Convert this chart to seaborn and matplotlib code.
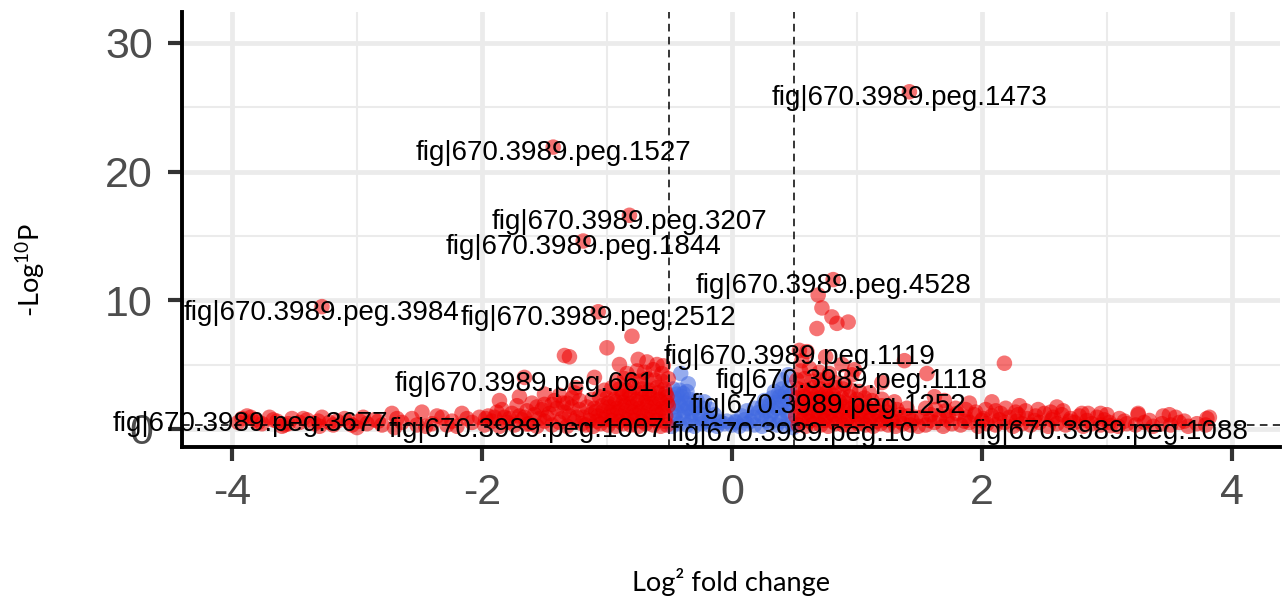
import numpy as np
import pandas as pd
import matplotlib
matplotlib.use("Agg")
import matplotlib.pyplot as plt
import seaborn as sns

# ---------------- data ----------------
# far left red band
fc_far_left = [-3.95, -3.88, -3.82, -3.76, -3.70, -3.64, -3.58, -3.52, -3.46, -3.40,
               -3.34, -3.28, -3.22, -3.16, -3.10, -3.04, -2.98, -2.92, -2.86, -2.80,
               -2.72, -2.64, -2.56, -2.48, -2.40, -2.32, -2.24, -2.16, -2.08, -2.02,
               -3.60, -3.30, -3.00, -2.70, -2.45, -2.20,
               -3.92, -3.79, -3.67, -3.55, -3.43, -3.31, -3.19, -3.07, -2.95, -2.83,
               -2.68, -2.52, -2.36, -2.28, -2.12]
p_far_left = [0.5, 1.0, 0.7, 0.4, 0.9, 0.6, 0.3, 0.8, 0.5, 0.7,
              0.4, 0.9, 0.5, 0.6, 0.8, 0.3, 0.6, 0.4, 0.7, 0.3,
              1.2, 0.5, 0.8, 1.3, 0.4, 0.9, 0.6, 1.2, 0.5, 0.9,
              0.2, 0.2, 0.1, 0.1, 0.2, 0.2,
              0.8, 0.5, 0.7, 0.4, 0.8, 0.6, 0.3, 0.6, 0.9, 0.6,
              0.8, 0.3, 1.0, 0.3, 0.8]

# -2 .. -1.2
fc_mid_left = [-1.98, -1.92, -1.86, -1.80, -1.74, -1.68, -1.62, -1.56, -1.50, -1.44, -1.38, -1.32, -1.26, -1.20,
               -1.95, -1.88, -1.82, -1.76, -1.70, -1.64, -1.58, -1.52, -1.46, -1.40, -1.34, -1.28, -1.22,
               -1.86, -1.72, -1.60, -1.50, -1.42, -1.35, -1.28, -1.22,
               -1.70, -1.50, -1.38, -1.25,
               -1.97, -1.90, -1.84, -1.78, -1.66, -1.54, -1.48, -1.36, -1.30, -1.24,
               -1.56, -1.44, -1.32, -1.26]
p_mid_left = [0.3, 0.6, 0.2, 0.5, 0.3, 0.7, 0.4, 0.2, 0.6, 0.3, 0.5, 0.2, 0.6, 0.4,
              1.0, 1.3, 0.9, 1.2, 1.0, 1.4, 1.1, 1.5, 1.2, 1.6, 1.3, 1.7, 1.5,
              2.2, 1.8, 2.0, 1.9, 2.2, 2.0, 2.4, 2.2,
              2.5, 2.7, 2.6, 3.2,
              0.8, 0.9, 1.5, 0.8, 0.9, 0.8, 0.9, 0.8, 1.0, 0.9,
              1.7, 1.9, 2.0, 2.8]

# -1.2 .. -0.5 (dense)
fc_near_left = [-1.17, -1.11, -1.05, -0.99, -0.93, -0.87, -0.81, -0.75, -0.69, -0.63, -0.57, -0.52,
                -1.19, -1.13, -1.07, -1.01, -0.95, -0.89, -0.83, -0.77, -0.71, -0.65, -0.59, -0.53,
                -1.16, -1.10, -1.04, -0.98, -0.92, -0.86, -0.80, -0.74, -0.68, -0.62, -0.56, -0.51,
                -1.12, -1.06, -1.00, -0.94, -0.88, -0.82, -0.76, -0.70, -0.64, -0.58, -0.52,
                -1.02, -0.96, -0.90, -0.84, -0.78, -0.72, -0.66, -0.60, -0.54,
                -0.92, -0.86, -0.80, -0.74, -0.68, -0.62, -0.56, -0.51,
                -0.84, -0.76, -0.70, -0.63, -0.56,
                -1.14, -1.08, -1.02, -0.96, -0.90, -0.84, -0.78, -0.72, -0.66, -0.60, -0.54,
                -1.09, -1.03, -0.97, -0.91, -0.85, -0.79, -0.73, -0.67, -0.61, -0.55,
                -0.99, -0.93, -0.87, -0.81, -0.75, -0.69, -0.63, -0.57, -0.52,
                -0.88, -0.82, -0.72, -0.66, -0.59, -0.53,
                -0.80, -1.00, -1.30, -1.34, -0.68, -0.60, -0.90, -1.10, -0.75, -0.55]
p_near_left = [0.3, 0.2, 0.4, 0.3, 0.2, 0.4, 0.3, 0.2, 0.4, 0.3, 0.2, 0.3,
               0.9, 1.1, 1.0, 0.9, 1.1, 1.0, 0.9, 1.1, 1.0, 0.9, 1.1, 1.0,
               1.7, 1.6, 1.8, 1.7, 1.6, 1.8, 1.7, 1.6, 1.8, 1.7, 1.6, 1.8,
               2.3, 2.5, 2.4, 2.3, 2.5, 2.4, 2.3, 2.5, 2.4, 2.3, 2.5,
               3.0, 3.2, 3.1, 3.0, 3.2, 3.1, 3.0, 3.2, 3.1,
               3.7, 3.9, 3.8, 3.7, 3.9, 3.8, 3.7, 3.9,
               4.3, 4.5, 4.4, 4.6, 4.3,
               0.65, 0.6, 0.7, 0.65, 0.6, 0.7, 0.65, 0.6, 0.7, 0.65, 0.6,
               1.35, 1.4, 1.3, 1.35, 1.4, 1.3, 1.35, 1.4, 1.3, 1.35,
               2.0, 2.1, 2.05, 2.0, 2.1, 2.05, 2.0, 2.1, 2.05,
               2.8, 2.75, 2.8, 2.75, 2.8, 2.75,
               7.2, 6.3, 5.6, 5.7, 5.2, 5.0, 5.0, 4.0, 5.4, 4.9]

# -0.5 .. 0.5 (blue, below fold-change cut-off)
fc_centre = [-0.48, -0.42, -0.36, -0.30, -0.24, -0.18, -0.12, -0.06, 0.00, 0.06, 0.12, 0.18, 0.24, 0.30, 0.36, 0.42, 0.48,
             -0.46, -0.39, -0.32, -0.25, -0.18, -0.11, -0.04, 0.03, 0.10, 0.17, 0.24, 0.31, 0.38, 0.45,
             -0.47, -0.41, -0.35, -0.29, -0.23, -0.17, 0.12, 0.18, 0.24, 0.30, 0.36, 0.42, 0.47,
             -0.46, -0.40, -0.34, -0.28, -0.22, 0.26, 0.32, 0.38, 0.44,
             -0.47, -0.42, -0.36, 0.34, 0.40, 0.46,
             -0.41, -0.35, 0.40, 0.45,
             -0.45, -0.33, -0.21, -0.09, 0.03, 0.15, 0.27, 0.39,
             -0.44, -0.38, -0.32, -0.26, -0.14, 0.08, 0.21, 0.27, 0.33, 0.44,
             -0.43, -0.37, -0.31, 0.29, 0.35, 0.41,
             -0.44, -0.39, 0.37, 0.43, 0.47]
p_centre = [0.2, 0.4, 0.3, 0.2, 0.4, 0.3, 0.2, 0.4, 0.3, 0.2, 0.4, 0.3, 0.2, 0.4, 0.3, 0.2, 0.4,
            1.0, 0.9, 1.1, 0.8, 0.7, 0.6, 0.6, 0.6, 0.7, 0.9, 1.0, 1.1, 0.9, 1.0,
            1.7, 1.8, 1.6, 1.7, 1.6, 1.5, 1.4, 1.6, 1.7, 1.8, 1.6, 1.7, 1.8,
            2.4, 2.5, 2.3, 2.2, 2.1, 2.2, 2.4, 2.5, 2.4,
            3.1, 3.0, 2.9, 2.9, 3.1, 3.2,
            4.3, 3.5, 3.8, 4.2,
            0.65, 0.6, 0.6, 0.5, 0.5, 0.6, 0.65, 0.6,
            1.35, 1.4, 1.3, 1.2, 1.1, 1.0, 1.25, 1.35, 1.4, 1.35,
            2.0, 2.0, 1.9, 1.95, 2.05, 2.1,
            2.7, 2.75, 2.7, 2.8, 2.6]

# 0.5 .. 1.5 (dense)
fc_near_right = [0.53, 0.59, 0.65, 0.71, 0.77, 0.83, 0.89, 0.95, 1.01, 1.07, 1.13, 1.19, 1.25, 1.31, 1.37, 1.43, 1.49,
                 0.51, 0.57, 0.63, 0.69, 0.75, 0.81, 0.87, 0.93, 0.99, 1.05, 1.11, 1.17, 1.23, 1.29, 1.35, 1.41, 1.47,
                 0.54, 0.60, 0.66, 0.72, 0.78, 0.84, 0.90, 0.96, 1.02, 1.08, 1.14, 1.20, 1.26, 1.32, 1.40,
                 0.52, 0.58, 0.64, 0.70, 0.76, 0.82, 0.88, 0.94, 1.00, 1.06, 1.12, 1.20, 1.30,
                 0.53, 0.59, 0.65, 0.71, 0.77, 0.83, 0.89, 0.95, 1.02, 1.10,
                 0.52, 0.58, 0.64, 0.70, 0.76, 0.82, 0.90,
                 0.55, 0.62, 0.70, 0.78,
                 0.56, 0.62, 0.68, 0.74, 0.80, 0.86, 0.92, 0.98, 1.04, 1.10, 1.16, 1.22, 1.28, 1.34, 1.44,
                 0.55, 0.61, 0.67, 0.73, 0.79, 0.85, 0.91, 0.97, 1.03, 1.09, 1.16, 1.24,
                 0.56, 0.62, 0.68, 0.74, 0.80, 0.86, 0.92, 0.99,
                 0.57, 0.63, 0.69, 0.75, 0.81,
                 0.69, 0.72, 0.80, 0.84, 0.93, 0.68, 1.38, 1.56, 2.18, 0.60, 0.75, 0.98, 1.20, 0.88, 0.56]
p_near_right = [0.3, 0.2, 0.4, 0.3, 0.2, 0.4, 0.3, 0.2, 0.4, 0.3, 0.2, 0.4, 0.3, 0.2, 0.4, 0.3, 0.2,
                1.0, 0.9, 1.1, 1.0, 0.9, 1.1, 1.0, 0.9, 1.1, 1.0, 0.9, 1.1, 1.0, 0.9, 1.1, 1.0, 0.9,
                1.7, 1.6, 1.8, 1.7, 1.6, 1.8, 1.7, 1.6, 1.8, 1.7, 1.6, 1.8, 1.7, 1.5, 1.6,
                2.4, 2.5, 2.3, 2.4, 2.5, 2.3, 2.4, 2.5, 2.3, 2.4, 2.2, 2.3, 2.1,
                3.1, 3.0, 3.2, 3.1, 3.0, 3.2, 3.1, 3.0, 2.9, 2.8,
                3.8, 3.9, 3.7, 3.8, 3.9, 3.6, 3.5,
                4.5, 4.7, 4.4, 4.3,
                0.65, 0.6, 0.7, 0.65, 0.6, 0.7, 0.65, 0.6, 0.7, 0.65, 0.6, 0.7, 0.65, 0.6, 0.65,
                1.35, 1.3, 1.4, 1.35, 1.3, 1.4, 1.35, 1.3, 1.4, 1.3, 1.35, 1.3,
                2.05, 2.0, 2.1, 2.05, 2.0, 2.1, 2.0, 1.95,
                2.75, 2.8, 2.7, 2.75, 2.6,
                10.4, 9.4, 8.7, 8.2, 8.3, 7.8, 5.3, 4.3, 5.1, 6.0, 5.6, 4.6, 3.6, 5.0, 5.3]

# 1.5 .. 3.9
fc_far_right = [1.55, 1.62, 1.69, 1.76, 1.83, 1.90, 1.97, 2.04, 2.11, 2.18, 2.25, 2.32, 2.39, 2.46, 2.53, 2.60, 2.67,
                2.74, 2.81, 2.88, 2.95, 3.02, 3.09, 3.16, 3.23, 3.30, 3.37, 3.44, 3.51, 3.58, 3.65, 3.72, 3.79,
                1.52, 1.59, 1.66, 1.73, 1.80, 1.87, 1.94, 2.01, 2.08, 2.15, 2.22, 2.29, 2.36, 2.43, 2.50, 2.57,
                2.64, 2.71, 2.78, 2.85, 2.92, 3.00, 3.10, 3.25, 3.45, 3.55, 3.80,
                1.55, 1.63, 1.71, 1.79, 1.87, 1.95, 2.03, 2.11, 2.19, 2.27, 2.35, 2.45, 2.55, 2.65, 2.80, 2.95,
                1.58, 1.72, 1.86, 2.00, 2.14, 2.28, 2.42, 2.56, 2.70, 2.84, 2.98, 3.14, 3.34, 3.62,
                1.70, 1.90, 2.30, 2.60, 3.25, 3.50, 3.82, 1.62, 2.08]
p_far_right = [0.3, 0.5, 0.2, 0.4, 0.3, 0.5, 0.2, 0.4, 0.3, 0.5, 0.2, 0.4, 0.3, 0.5, 0.2, 0.4, 0.3,
               0.5, 0.2, 0.4, 0.3, 0.5, 0.2, 0.4, 0.3, 0.5, 0.2, 0.4, 0.3, 0.5, 0.2, 0.4, 0.3,
               0.9, 1.1, 0.8, 1.0, 1.2, 0.9, 1.1, 0.8, 1.0, 1.2, 0.9, 1.1, 0.8, 1.0, 1.2, 0.9,
               1.1, 0.8, 1.0, 1.2, 0.9, 1.1, 0.8, 1.1, 1.0, 0.9, 0.8,
               1.6, 1.5, 1.4, 1.6, 1.5, 1.3, 1.5, 1.4, 1.6, 1.3, 1.4, 1.5, 1.3, 1.4, 1.2, 1.2,
               0.65, 0.7, 0.6, 0.65, 0.7, 0.6, 0.65, 0.7, 0.6, 0.65, 0.7, 0.6, 0.65, 0.6,
               2.2, 2.0, 1.8, 1.7, 1.2, 1.1, 0.9, 2.5, 2.1]

# labelled genes
gene_names = ["fig|670.3989.peg.1473", "fig|670.3989.peg.1527", "fig|670.3989.peg.3207",
              "fig|670.3989.peg.1844", "fig|670.3989.peg.4528", "fig|670.3989.peg.3984",
              "fig|670.3989.peg.2512", "fig|670.3989.peg.1119", "fig|670.3989.peg.661",
              "fig|670.3989.peg.1118", "fig|670.3989.peg.1252", "fig|670.3989.peg.3677",
              "fig|670.3989.peg.1007", "fig|670.3989.peg.10", "fig|670.3989.peg.1088"]
gene_fc = [1.42, -1.43, -0.82, -1.19, 0.81, -3.28, -1.07, 0.54, -1.66, 0.96, 0.77, -3.85, -1.64, 0.49, 3.03]
gene_p = [26.2, 21.9, 16.6, 14.6, 11.6, 9.5, 9.1, 6.1, 4.0, 4.2, 2.3, 0.9, 0.37, 0.1, 0.25]

x_ticks = [-4, -2, 0, 2, 4]
y_ticks = [0, 10, 20, 30]
fc_cutoff = 0.5
p_cutoff_line = 0.301

# ---------------- build frame ----------------
all_fc = fc_centre + fc_far_left + fc_mid_left + fc_near_left + fc_near_right + fc_far_right + gene_fc
all_p = p_centre + p_far_left + p_mid_left + p_near_left + p_near_right + p_far_right + gene_p
df = pd.DataFrame({"fc": all_fc, "p": all_p})
df["group"] = np.where(np.abs(df["fc"]) > fc_cutoff, "sig", "ns")
df = pd.concat([df[df.group == "ns"], df[df.group == "sig"]], ignore_index=True)

# ---------------- style ----------------
sns.set_theme(style="white")
plt.rcParams["font.family"] = ["Liberation Sans", "DejaVu Sans"]
plt.rcParams["axes.unicode_minus"] = False
plt.rcParams["mathtext.fontset"] = "custom"
plt.rcParams["mathtext.rm"] = "Lato"

fig = plt.figure(figsize=(12.85, 6.01), dpi=100)
ax = fig.add_axes([182 / 1285, 1 - 447 / 601, (1280 - 182) / 1285, (447 - 12) / 601])

sns.scatterplot(data=df, x="fc", y="p", hue="group",
                palette={"ns": "#4169E1", "sig": "#EE0000"},
                s=125, alpha=0.55, linewidth=0, legend=False, ax=ax, zorder=3)

ax.axvline(-fc_cutoff, color="black", ls=(0, (5, 3.5)), lw=1.1, zorder=4)
ax.axvline(fc_cutoff, color="black", ls=(0, (5, 3.5)), lw=1.1, zorder=4)
ax.axhline(p_cutoff_line, color="black", ls=(0, (5, 3.5)), lw=1.1, zorder=4)

for name, x, y in zip(gene_names, gene_fc, gene_p):
    ax.annotate(name, (x, y), xytext=(0, -4.5), textcoords="offset points",
                ha="center", va="center", fontsize=20, color="black", zorder=5)

ax.set_xlim(-4.4, 4.385)
ax.set_ylim(-1.41, 32.4)
ax.set_xticks(x_ticks)
ax.set_xticks([-3, -1, 1, 3], minor=True)
ax.set_yticks(y_ticks)
ax.set_yticks([5, 15, 25], minor=True)
ax.grid(which="major", color="#EBEBEB", lw=3.4)
ax.grid(which="minor", color="#EBEBEB", lw=1.5)
ax.set_axisbelow(True)
for s in ["top", "right"]:
    ax.spines[s].set_visible(False)
for s in ["left", "bottom"]:
    ax.spines[s].set_color("black")
    ax.spines[s].set_linewidth(2.8)
ax.tick_params(which="major", length=10, width=3, color="#333333",
               labelsize=31, labelcolor="#4D4D4D", bottom=True, left=True)
ax.tick_params(axis="x", which="major", pad=9)
ax.tick_params(axis="y", which="major", pad=11)
ax.tick_params(which="minor", length=0)
ax.set_xlabel("")
ax.set_ylabel("")

fig.text(731 / 1285, 1 - 582 / 601, "Log² fold change", family="Lato",
         fontsize=19.5, ha="center", va="center", color="black")
fig.text(30 / 1285, 1 - 270 / 601, r"-Log$^{\mathregular{10}}$P", family="Lato",
         fontsize=19.5, ha="center", va="center", rotation=90, color="black")

fig.savefig("out.png", dpi=100)
